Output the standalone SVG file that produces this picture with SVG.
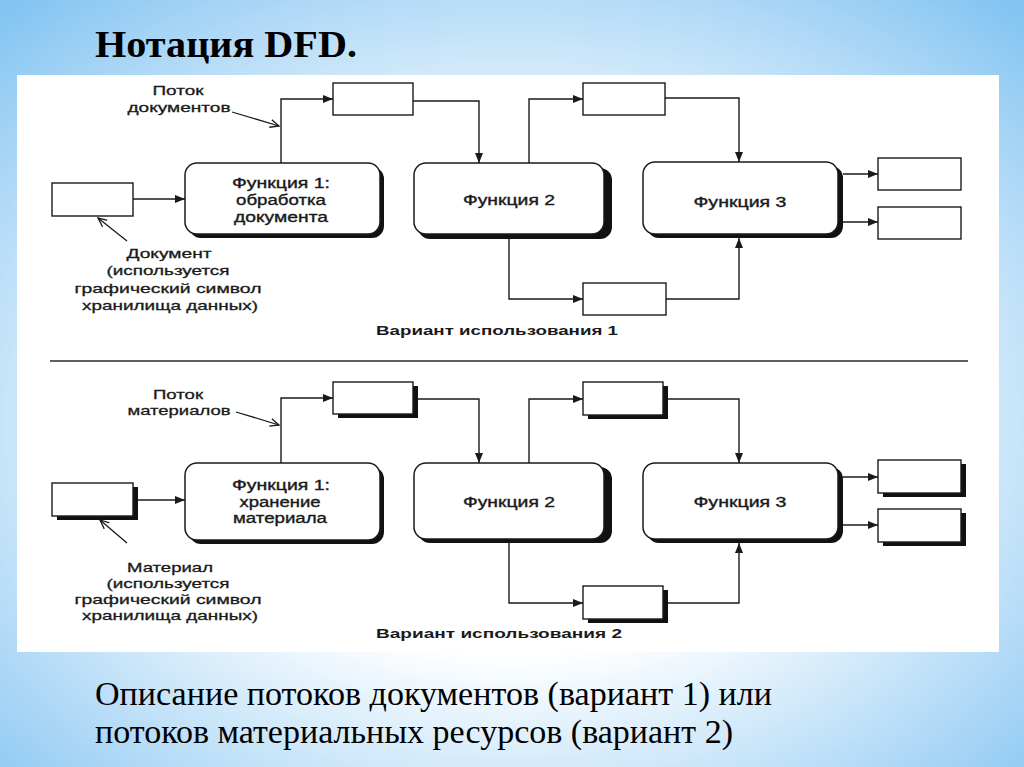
<svg xmlns="http://www.w3.org/2000/svg" width="1024" height="767" viewBox="0 0 1024 767">
<defs>
<radialGradient id="bg" cx="50%" cy="55%" r="72%">
<stop offset="0" stop-color="#ffffff"/>
<stop offset="0.42" stop-color="#ffffff"/>
<stop offset="1" stop-color="#86c5f2"/>
</radialGradient>
<marker id="ah" viewBox="0 0 10 8" refX="10" refY="4" markerWidth="10" markerHeight="8" markerUnits="userSpaceOnUse" orient="auto">
<path d="M0,0 L10,4 L0,8 z" fill="#1a1a1a"/>
</marker>
<marker id="oh" viewBox="0 0 10 10" refX="9" refY="5" markerWidth="10" markerHeight="10" markerUnits="userSpaceOnUse" orient="auto">
<path d="M0,1 L9,5 L0,9" fill="none" stroke="#1a1a1a" stroke-width="1.3"/>
</marker>
<style>
.fn{fill:#fff;stroke:#1a1a1a;stroke-width:1.5}
.sh{fill:#111}
.ds{fill:#fff;stroke:#1a1a1a;stroke-width:1.4}
.c{fill:none;stroke:#1a1a1a;stroke-width:1.4;marker-end:url(#ah)}
.p{fill:none;stroke:#1a1a1a;stroke-width:1.3;marker-end:url(#oh)}
.t{font-family:"Liberation Sans",Arial,sans-serif;font-size:14px;fill:#1a1a1a;stroke:#1a1a1a;stroke-width:0.35;text-anchor:middle}
.l{font-family:"Liberation Sans",Arial,sans-serif;font-size:13px;fill:#1a1a1a;stroke:#1a1a1a;stroke-width:0.3;text-anchor:middle}
.v{font-family:"Liberation Sans",Arial,sans-serif;font-size:13.5px;font-weight:bold;fill:#1a1a1a}
.h{font-family:"Liberation Serif","Times New Roman",serif;font-weight:bold;font-size:38px;fill:#000}
.d{font-family:"Liberation Serif","Times New Roman",serif;font-size:33px;fill:#000}
</style>
</defs>
<rect width="1024" height="767" fill="url(#bg)"/>
<rect x="17" y="75" width="982" height="577" fill="#ffffff"/>
<text class="h" x="95" y="57" textLength="262" lengthAdjust="spacingAndGlyphs">Нотация DFD.</text>

<!-- Variant 1 -->
<g id="v1-store-doc"><rect class="ds" x="52" y="183" width="81" height="33"/></g>
<g id="v1-func1">
<rect class="sh" x="189" y="167" width="195" height="71" rx="12"/>
<rect class="fn" x="185" y="163" width="195" height="71" rx="12"/>
<text class="t" x="281" y="188" textLength="98" lengthAdjust="spacingAndGlyphs">Функция 1:</text>
<text class="t" x="281" y="205" textLength="90" lengthAdjust="spacingAndGlyphs">обработка</text>
<text class="t" x="281" y="222" textLength="94" lengthAdjust="spacingAndGlyphs">документа</text>
</g>
<g id="v1-store-a"><rect class="ds" x="333" y="83" width="80" height="32"/></g>
<g id="v1-func2">
<rect class="sh" x="418" y="168" width="194" height="71" rx="12"/>
<rect class="fn" x="414" y="163" width="190" height="71" rx="12"/>
<text class="t" x="509" y="205" textLength="92" lengthAdjust="spacingAndGlyphs">Функция 2</text>
</g>
<g id="v1-store-b"><rect class="ds" x="583" y="83" width="82" height="32"/></g>
<g id="v1-func3">
<rect class="sh" x="647" y="166" width="196" height="72" rx="12"/>
<rect class="fn" x="643" y="162" width="195" height="72" rx="12"/>
<text class="t" x="740" y="207" textLength="93" lengthAdjust="spacingAndGlyphs">Функция 3</text>
</g>
<g id="v1-out1"><rect class="ds" x="878" y="158" width="83" height="32"/></g>
<g id="v1-out2"><rect class="ds" x="878" y="207" width="83" height="32"/></g>
<g id="v1-store-c"><rect class="ds" x="583" y="283" width="83" height="32"/></g>
<g id="v1-labels">
<text class="l" x="178" y="95" textLength="51" lengthAdjust="spacingAndGlyphs">Поток</text>
<text class="l" x="179" y="112" textLength="103" lengthAdjust="spacingAndGlyphs">документов</text>
<text class="l" x="169" y="258" textLength="85" lengthAdjust="spacingAndGlyphs">Документ</text>
<text class="l" x="168" y="275" textLength="123" lengthAdjust="spacingAndGlyphs">(используется</text>
<text class="l" x="168" y="293" textLength="187" lengthAdjust="spacingAndGlyphs">графический символ</text>
<text class="l" x="170" y="310" textLength="176" lengthAdjust="spacingAndGlyphs">хранилища данных)</text>
<text class="v" x="376" y="335" textLength="242" lengthAdjust="spacingAndGlyphs">Вариант использования 1</text>
</g>

<line x1="50" y1="361" x2="968" y2="361" stroke="#2a2a2a" stroke-width="1.5"/>

<!-- Variant 2 -->
<g id="v2-store-mat">
<rect class="sh" x="57" y="487" width="81" height="33"/>
<rect class="ds" x="52" y="483" width="81" height="33"/>
</g>
<g id="v2-func1">
<rect class="sh" x="189" y="467" width="195" height="77" rx="12"/>
<rect class="fn" x="185" y="463" width="195" height="77" rx="12"/>
<text class="t" x="281" y="490" textLength="98" lengthAdjust="spacingAndGlyphs">Функция 1:</text>
<text class="t" x="280" y="507" textLength="81" lengthAdjust="spacingAndGlyphs">хранение</text>
<text class="t" x="280" y="523" textLength="94" lengthAdjust="spacingAndGlyphs">материала</text>
</g>
<g id="v2-store-a">
<rect class="sh" x="338" y="386" width="80" height="32"/>
<rect class="ds" x="333" y="382" width="80" height="32"/>
</g>
<g id="v2-func2">
<rect class="sh" x="418" y="467" width="194" height="76" rx="12"/>
<rect class="fn" x="414" y="463" width="190" height="76" rx="12"/>
<text class="t" x="509" y="507" textLength="92" lengthAdjust="spacingAndGlyphs">Функция 2</text>
</g>
<g id="v2-store-b">
<rect class="sh" x="588" y="386" width="80" height="33"/>
<rect class="ds" x="583" y="382" width="80" height="33"/>
</g>
<g id="v2-func3">
<rect class="sh" x="647" y="467" width="196" height="76" rx="12"/>
<rect class="fn" x="643" y="463" width="195" height="76" rx="12"/>
<text class="t" x="740" y="507" textLength="93" lengthAdjust="spacingAndGlyphs">Функция 3</text>
</g>
<g id="v2-out1">
<rect class="sh" x="883" y="464" width="83" height="33"/>
<rect class="ds" x="878" y="460" width="83" height="33"/>
</g>
<g id="v2-out2">
<rect class="sh" x="883" y="513" width="83" height="33"/>
<rect class="ds" x="878" y="509" width="83" height="33"/>
</g>
<g id="v2-store-c">
<rect class="sh" x="588" y="590" width="80" height="33"/>
<rect class="ds" x="583" y="586" width="80" height="33"/>
</g>
<g id="v2-labels">
<text class="l" x="178" y="399" textLength="50" lengthAdjust="spacingAndGlyphs">Поток</text>
<text class="l" x="179" y="415" textLength="103" lengthAdjust="spacingAndGlyphs">материалов</text>
<text class="l" x="170" y="572" textLength="86" lengthAdjust="spacingAndGlyphs">Материал</text>
<text class="l" x="168" y="588" textLength="123" lengthAdjust="spacingAndGlyphs">(используется</text>
<text class="l" x="168" y="604" textLength="187" lengthAdjust="spacingAndGlyphs">графический символ</text>
<text class="l" x="170" y="620" textLength="176" lengthAdjust="spacingAndGlyphs">хранилища данных)</text>
<text class="v" x="376" y="638" textLength="246" lengthAdjust="spacingAndGlyphs">Вариант использования 2</text>
</g>

<g id="connectors">
<path class="c" d="M133,199 H185"/>
<path class="c" d="M281,163 V99 H333"/>
<path class="c" d="M413,101 H479 V163"/>
<path class="c" d="M529,163 V99 H583"/>
<path class="c" d="M665,98 H739 V162"/>
<path class="c" d="M843,174 H878"/>
<path class="c" d="M843,222 H878"/>
<path class="c" d="M509,239 V299 H583"/>
<path class="c" d="M666,299 H739 V238"/>
<path class="p" d="M232,112 L279,126"/>
<path class="p" d="M127,241 L98,218"/>
<path class="c" d="M138,500 H185"/>
<path class="c" d="M281,463 V398 H333"/>
<path class="c" d="M418,399 H479 V463"/>
<path class="c" d="M529,463 V399 H583"/>
<path class="c" d="M668,399 H739 V463"/>
<path class="c" d="M843,477 H878"/>
<path class="c" d="M843,525 H878"/>
<path class="c" d="M509,543 V603 H583"/>
<path class="c" d="M668,603 H739 V543"/>
<path class="p" d="M236,412 L279,425"/>
<path class="p" d="M127,543 L100,520"/>
</g>

<text class="d" x="95" y="705" textLength="677" lengthAdjust="spacingAndGlyphs">Описание потоков документов (вариант 1) или</text>
<text class="d" x="95" y="743" textLength="638" lengthAdjust="spacingAndGlyphs">потоков материальных ресурсов (вариант 2)</text>
</svg>
